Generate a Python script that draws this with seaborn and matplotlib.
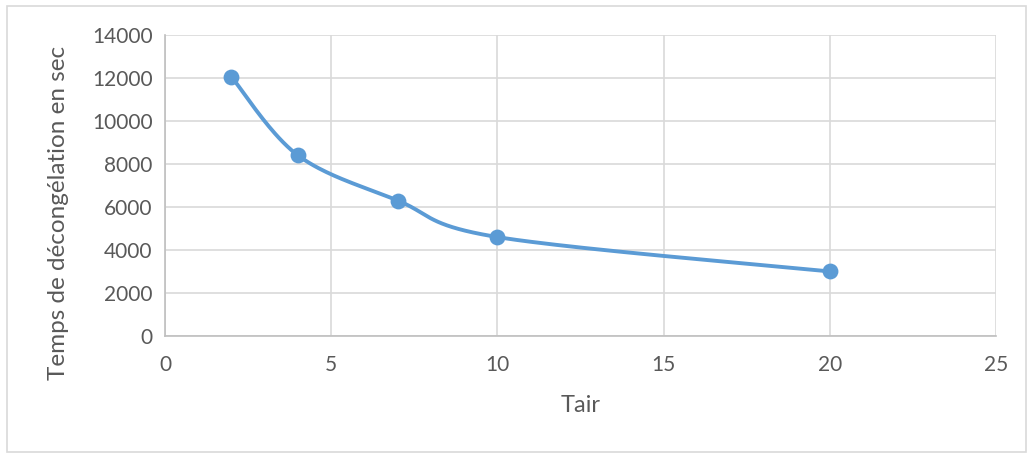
import numpy as np
import pandas as pd
import matplotlib
matplotlib.use('Agg')
import matplotlib.pyplot as plt
import seaborn as sns
from matplotlib.patches import Rectangle

# values
tair = [2, 4, 7, 10, 20]
temps = [12050, 8400, 6300, 4600, 3000]
x_ticks = [0, 5, 10, 15, 20, 25]
y_ticks = [0, 2000, 4000, 6000, 8000, 10000, 12000, 14000]

df = pd.DataFrame({'Tair': tair, 'temps': temps})

sns.set_style('white')
plt.rcParams['font.family'] = ['Lato', 'DejaVu Sans']

fig = plt.figure(figsize=(10.33, 4.54), dpi=100)
ax = fig.add_axes([0.1597, 0.26, 0.8045, 0.663])

# smoothed line like Excel (Bezier through the points, computed in pixel space)
sx = 831 / 25.0
sy = 301 / 14000.0
P = np.column_stack([np.array(tair) * sx, np.array(temps) * sy])
Pe = np.vstack([P[0], P, P[-1]])
curve = []
t = np.linspace(0, 1, 40)[:, None]
for i in range(len(P) - 1):
    p0, p1, p2, p3 = Pe[i], Pe[i + 1], Pe[i + 2], Pe[i + 3]
    c1 = p1 + (p2 - p0) / 6.0
    c2 = p2 - (p3 - p1) / 6.0
    seg = ((1 - t) ** 3) * p1 + 3 * ((1 - t) ** 2) * t * c1 + 3 * (1 - t) * t ** 2 * c2 + t ** 3 * p2
    curve.append(seg)
curve = np.vstack(curve)
smooth = pd.DataFrame({'Tair': curve[:, 0] / sx, 'temps': curve[:, 1] / sy})

color = '#5b9bd5'
sns.lineplot(data=smooth, x='Tair', y='temps', ax=ax, color=color, linewidth=2.8,
             sort=False, estimator=None)
sns.scatterplot(data=df, x='Tair', y='temps', ax=ax, color=color, s=130,
                edgecolor=color, linewidth=0, zorder=5)

ax.set_xlim(0, 25)
ax.set_ylim(0, 14000)
ax.set_xticks(x_ticks)
ax.set_yticks(y_ticks)
ax.grid(True, color='#d9d9d9', linewidth=1.2)
ax.set_axisbelow(True)
for side in ['top', 'right']:
    ax.spines[side].set_visible(False)
for side in ['left', 'bottom']:
    ax.spines[side].set_color('#bfbfbf')
    ax.spines[side].set_linewidth(1.2)
ax.tick_params(axis='both', length=0, labelsize=15, colors='#595959')
ax.tick_params(axis='x', pad=14)
ax.tick_params(axis='y', pad=9)
ax.set_xlabel('Tair', fontsize=17, color='#595959', labelpad=14)
ax.set_ylabel('Temps de décongélation en sec', fontsize=17.5, color='#595959')
ax.yaxis.set_label_coords(-0.116, 0.41)

# light frame around the whole chart
fig.patches.append(Rectangle((7 / 1033, 2 / 454), 1019 / 1033, 446 / 454,
                             transform=fig.transFigure, fill=False,
                             edgecolor='#d9d9d9', linewidth=1.2))

fig.savefig('out.png', dpi=100)
